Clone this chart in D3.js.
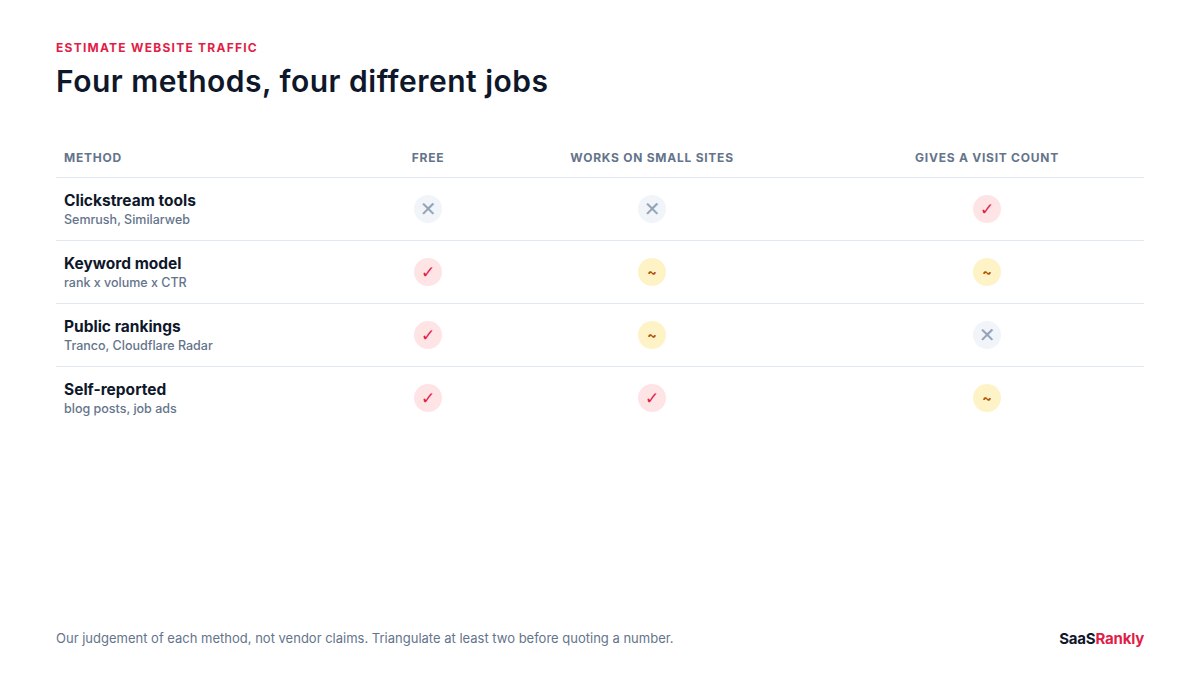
<!DOCTYPE html>
<html>
<head>
<meta charset="utf-8">
<script src="https://cdn.jsdelivr.net/npm/d3@7"></script>
<style>
  html, body { margin: 0; padding: 0; background: #fff; }
  svg { display: block; }
  text { font-family: Inter, "Noto Sans", sans-serif; }
</style>
</head>
<body>
<svg id="chart" width="1200" height="675"></svg>
<script>
const eyebrow = 'ESTIMATE WEBSITE TRAFFIC';
const title = 'Four methods, four different jobs';
const footnote = 'Our judgement of each method, not vendor claims. Triangulate at least two before quoting a number.';

const columns = ['FREE', 'WORKS ON SMALL SITES', 'GIVES A VISIT COUNT'];
const methods = ['Clickstream tools', 'Keyword model', 'Public rankings', 'Self-reported'];
const examples = ['Semrush, Similarweb', 'rank x volume x CTR', 'Tranco, Cloudflare Radar', 'blog posts, job ads'];
const free = ['no', 'yes', 'yes', 'yes'];
const smallSites = ['no', 'partial', 'partial', 'yes'];
const visitCount = ['yes', 'partial', 'no', 'partial'];

const ratings = [free, smallSites, visitCount];

const glyphs = { yes: '\u2713', partial: '~', no: '\u2715' };
const glyphSize = { yes: 17, partial: 14, no: 20 };
const glyphDy = { yes: 6, partial: 5, no: 7 };
const bg = { yes: '#ffe4e6', partial: '#fef3c7', no: '#f1f5f9' };
const fg = { yes: '#e11d48', partial: '#b45309', no: '#94a3b8' };

const svg = d3.select('#chart');

const x = d3.scaleOrdinal().domain(columns).range([428, 652, 987]);
const y = d3.scaleBand().domain(methods).range([177.5, 429.5]);

svg.append('text').attr('x', 56).attr('y', 52)
  .attr('font-size', 12).attr('font-weight', 700).attr('letter-spacing', 1.25)
  .attr('fill', '#e11d48').text(eyebrow);

svg.append('text').attr('x', 56).attr('y', 92)
  .attr('font-size', 30).attr('font-weight', 600).attr('letter-spacing', 0.5)
  .attr('fill', '#0f172a').text(title);

// header
svg.append('text').attr('x', 64).attr('y', 162)
  .attr('font-size', 12).attr('font-weight', 700).attr('letter-spacing', 0.75)
  .attr('fill', '#64748b').text('METHOD');

svg.selectAll('.col').data(columns).join('text')
  .attr('class', 'col')
  .attr('x', d => x(d)).attr('y', 162)
  .attr('text-anchor', 'middle')
  .attr('font-size', 12).attr('font-weight', 700).attr('letter-spacing', 0.75)
  .attr('fill', '#64748b').text(d => d);

// row rules
svg.selectAll('.rule').data(methods).join('line')
  .attr('class', 'rule')
  .attr('x1', 56).attr('x2', 1144)
  .attr('y1', d => y(d)).attr('y2', d => y(d))
  .attr('stroke', '#e2e8f0');

svg.selectAll('.method').data(methods).join('text')
  .attr('class', 'method')
  .attr('x', 64).attr('y', d => y(d) + 28)
  .attr('font-size', 15.5).attr('font-weight', 700)
  .attr('fill', '#0f172a').text(d => d);

svg.selectAll('.example').data(methods).join('text')
  .attr('class', 'example')
  .attr('x', 64).attr('y', d => y(d) + 46)
  .attr('font-size', 12.5).attr('font-weight', 500)
  .attr('fill', '#64748b').text((d, i) => examples[i]);

// rating badges
columns.forEach((col, c) => {
  const cells = svg.append('g').selectAll('g').data(ratings[c]).join('g')
    .attr('transform', (d, i) => `translate(${x(col)},${y(methods[i]) + 31.5})`);
  cells.append('circle').attr('r', 14).attr('fill', d => bg[d]);
  cells.append('text')
    .attr('text-anchor', 'middle').attr('y', d => glyphDy[d])
    .attr('font-size', d => glyphSize[d]).attr('font-weight', 700)
    .style('font-family', d => d === 'partial' ? null : '"DejaVu Sans", sans-serif')
    .attr('fill', d => fg[d]).text(d => glyphs[d]);
});

// footer
svg.append('text').attr('x', 56).attr('y', 643)
  .attr('font-size', 13).attr('fill', '#64748b').text(footnote);

const brand = svg.append('text').attr('x', 1144).attr('y', 644)
  .attr('text-anchor', 'end').attr('font-size', 15).attr('font-weight', 700).attr('letter-spacing', -0.2);
brand.append('tspan').attr('fill', '#0f172a').text('SaaS');
brand.append('tspan').attr('fill', '#e11d48').text('Rankly');
</script>
</body>
</html>
